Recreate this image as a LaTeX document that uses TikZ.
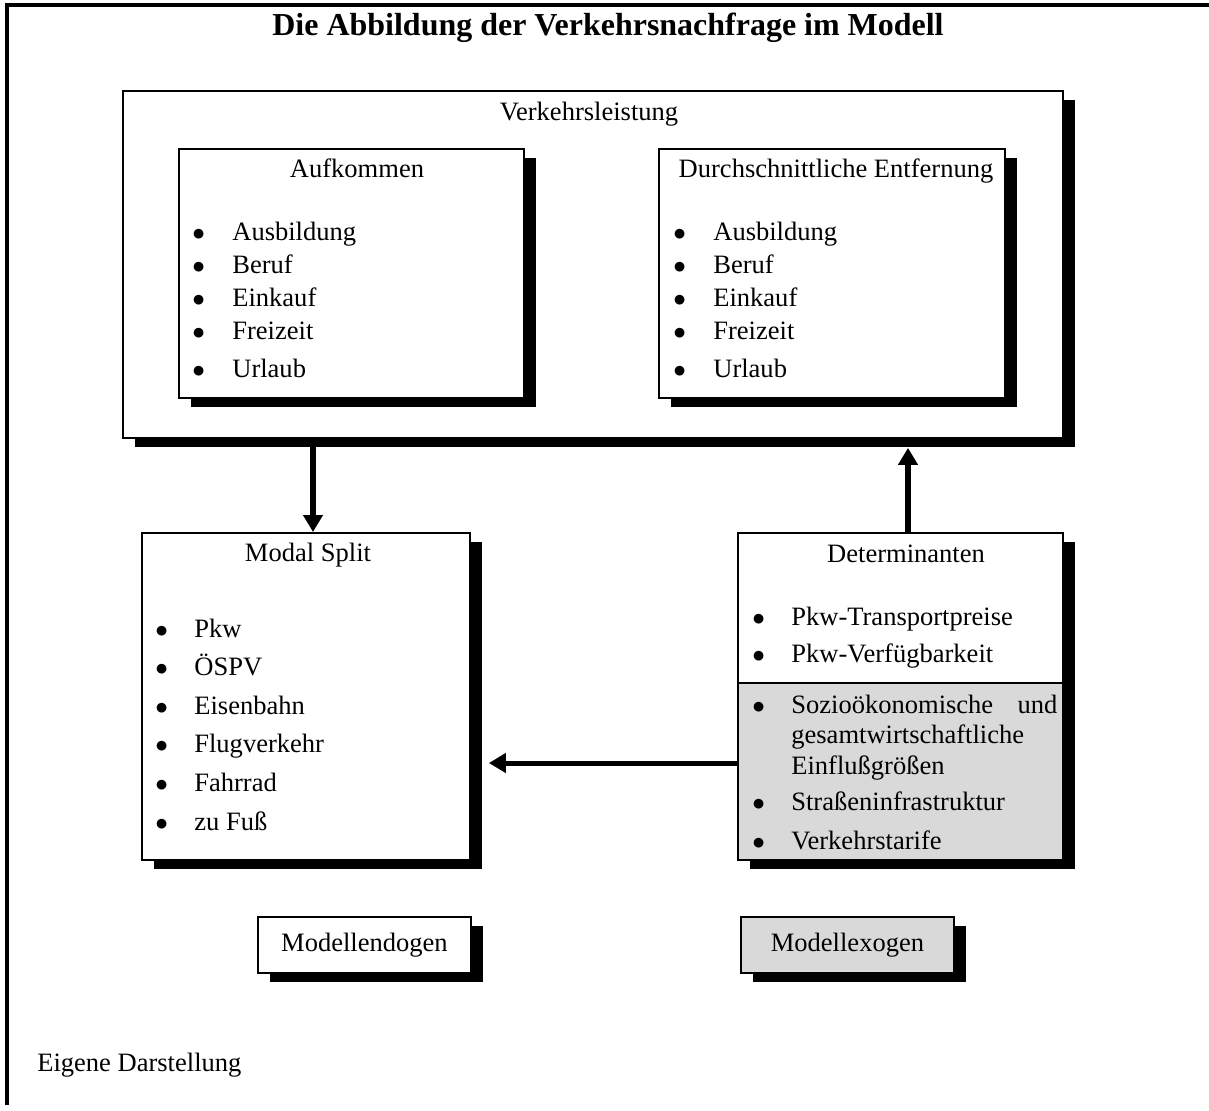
\documentclass[tikz,border=0pt]{standalone}
\usepackage{fontspec}
\setmainfont{Liberation Serif}
\usepackage{tikz}
\usetikzlibrary{shapes,arrows.meta,positioning,shadows}
\definecolor{exogray}{RGB}{217,217,217}
\newcommand{\blt}{$\bullet$}

\begin{document}
\begin{tikzpicture}[x=0.02cm, y=-0.02cm, font=\fontsize{15.1}{18}\selectfont,
        box/.style={rectangle, draw, line width=1.1pt, fill=white, anchor=north west, inner sep=0pt,
            drop shadow={shadow xshift=0.25cm, shadow yshift=-0.19cm, opacity=1, fill=black}},
        head/.style={anchor=base},
        list/.style={anchor=base west, inner sep=0pt, font=\fontsize{15.1}{#1}\selectfont},
        arrow/.style={-{Triangle[length=0.34cm, width=0.38cm]}, line width=0.12cm}]

      \useasboundingbox (0,0) rectangle (1209,1110);
      \draw[line width=2.2pt] (7,1105) -- (7,5) -- (1209,5);

      \node[anchor=base, font=\fontsize{18.2}{22}\selectfont\bfseries] (title) at (608,35) {Die Abbildung der Verkehrsnachfrage im Modell};

      % Verkehrsleistung
      \node[box, minimum width=18.8cm, minimum height=6.94cm] (leist) at (122,90) {};
      \node[head] (hleist) at (589,120) {Verkehrsleistung};

      \node[box, minimum width=6.9cm, minimum height=4.98cm] (aufk) at (178,148) {};
      \node[head] (haufk) at (357,177) {Aufkommen};
      \node[list=18.9pt] (laufk) at (192,240) {\begin{tabular}[t]{@{}p{0.8cm}@{}l@{}}
        \blt & Ausbildung\\ \blt & Beruf\\ \blt & Einkauf\\ \blt & Freizeit\\[2.8pt] \blt & Urlaub
        \end{tabular}};

      \node[box, minimum width=6.92cm, minimum height=4.98cm] (entf) at (658,148) {};
      \node[head] (hentf) at (836,177) {Durchschnittliche Entfernung};
      \node[list=18.9pt] (lentf) at (673,240) {\begin{tabular}[t]{@{}p{0.8cm}@{}l@{}}
        \blt & Ausbildung\\ \blt & Beruf\\ \blt & Einkauf\\ \blt & Freizeit\\[2.8pt] \blt & Urlaub
        \end{tabular}};

      % Modal Split
      \node[box, minimum width=6.56cm, minimum height=6.54cm] (modal) at (141,532) {};
      \node[head] (hmodal) at (308,561) {Modal Split};
      \node[list=22pt] (lmodal) at (155,637) {\begin{tabular}[t]{@{}p{0.78cm}@{}l@{}}
        \blt & Pkw\\ \blt & ÖSPV\\ \blt & Eisenbahn\\ \blt & Flugverkehr\\ \blt & Fahrrad\\ \blt & zu Fuß
        \end{tabular}};

      % Determinanten
      \node[box, minimum width=6.5cm, minimum height=6.54cm] (determ) at (737,532) {};
      \node[draw, line width=1.1pt, fill=exogray, anchor=south west, inner sep=0pt,
            minimum width=6.5cm, minimum height=3.54cm] (determx) at (determ.south west) {};
      \node[head] (hdeterm) at (906,562) {Determinanten};
      \node[list=21.6pt] (ldet1) at (752,625) {\begin{tabular}[t]{@{}p{0.78cm}@{}l@{}}
        \blt & Pkw-Transportpreise\\ \blt & Pkw-Verfügbarkeit
        \end{tabular}};
      \node[list=17.6pt] (ldet2) at (752,713) {\begin{tabular}[t]{@{}p{0.78cm}@{}l@{}}
        \blt & \makebox[5.32cm][s]{Sozioökonomische und}\\ & gesamtwirtschaftliche\\ & Einflußgrößen\\[2.8pt]
        \blt & Straßeninfrastruktur\\[4.5pt] \blt & Verkehrstarife
        \end{tabular}};

      % legend
      \node[box, minimum width=4.26cm, minimum height=1.12cm] (endo) at (257,916) {Modellendogen};
      \node[box, fill=exogray, minimum width=4.26cm, minimum height=1.12cm] (exo) at (740,916) {Modellexogen};

      \node[anchor=base west, inner sep=0pt] (src) at (37,1071) {Eigene Darstellung};

      \coordinate (dx) at (313,0);
      \coordinate (ux) at (908,0);
      \coordinate (hy) at (0,763);
      \draw[arrow] (leist.south -| dx) -- (modal.north -| dx);
      \draw[arrow, shorten >=0.18cm] (determ.north -| ux) -- (leist.south -| ux);
      \draw[arrow, line width=0.1cm, shorten >=0.36cm] (determ.west |- hy) -- (modal.east |- hy);
    \end{tikzpicture}
\end{document}
